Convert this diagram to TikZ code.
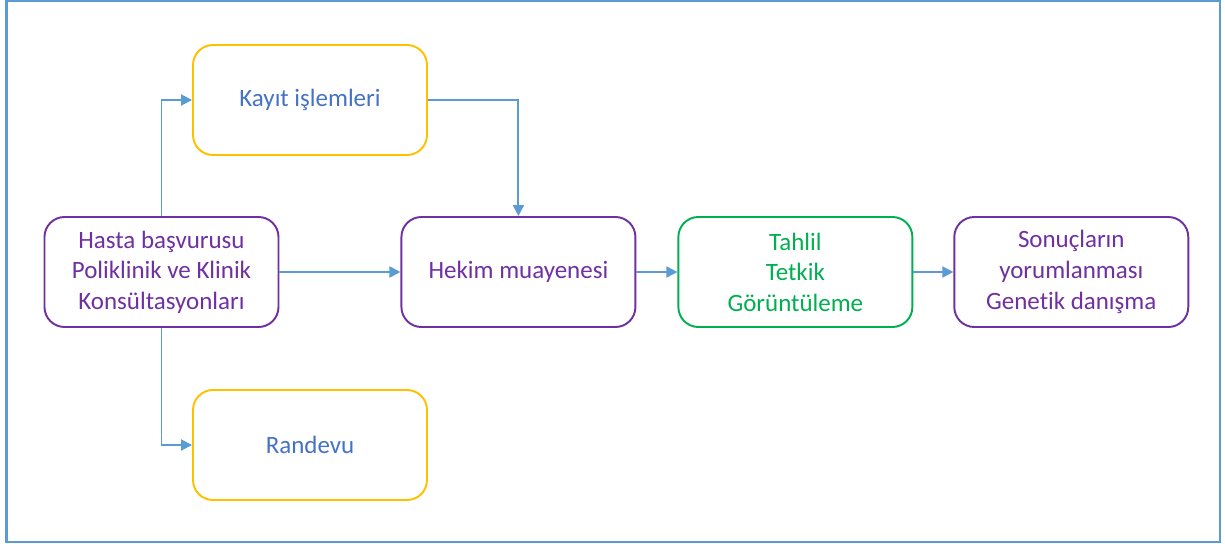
\documentclass[tikz,border=0pt]{standalone}
\usepackage{fontspec}
\setmainfont{Carlito}[Ligatures=NoCommon]
\usepackage{tikz}
\usetikzlibrary{
  arrows.meta,
  positioning
}
\definecolor{FrameBlue}{RGB}{91,155,213}
\definecolor{FlowBlue}{RGB}{91,155,213}
\definecolor{TextBlue}{RGB}{68,114,196}
\definecolor{StepPurple}{RGB}{112,48,160}
\definecolor{StepYellow}{RGB}{255,192,0}
\definecolor{StepGreen}{RGB}{0,176,80}
\tikzset{
  basebox/.style={draw,line width=1.1pt,fill=white,rounded corners=4mm,minimum height=22mm,minimum width=46.8mm,align=center,font=\fontsize{14.2}{17.4}\selectfont},
  purplebox/.style={basebox,draw=StepPurple,text=StepPurple},
  yellowbox/.style={basebox,draw=StepYellow,text=TextBlue},
  greenbox/.style={basebox,draw=StepGreen,text=StepGreen},
  flow/.style={-{Triangle[length=2.2mm,width=2.2mm]},line width=1.1pt,draw=FlowBlue},
  frame/.style={draw=FrameBlue,line width=1.6pt}
}
\begin{document}
\begin{tikzpicture}[node distance=8.2mm]
\useasboundingbox (0,0) rectangle (24.5,-10.88);
\draw[frame] (0.13,-0.02) rectangle (24.4,-10.84);

\node[purplebox] (hasta) at (3.23,-5.44) {Hasta başvurusu\\Poliklinik ve Klinik\\Konsültasyonları};
\node[yellowbox] (kayit) at (6.2,-2.0) {Kayıt işlemleri};
\node[yellowbox] (randevu) at (6.2,-8.9) {Randevu};
\node[purplebox, right=24.2mm of hasta] (hekim) {Hekim muayenesi};
\node[greenbox, right=of hekim] (tahlil) {Tahlil\\Tetkik\\Görüntüleme};
\node[purplebox, right=8.0mm of tahlil] (sonuc) {Sonuçların\\yorumlanması\\Genetik danışma};

\draw[flow] (hasta.north) |- (kayit.west);
\draw[flow] (hasta.south) |- (randevu.west);
\draw[flow] (hasta) -- (hekim);
\draw[flow] (kayit.east) -| (hekim.north);
\draw[flow] (hekim) -- (tahlil);
\draw[flow] (tahlil) -- (sonuc);
\end{tikzpicture}
\end{document}
